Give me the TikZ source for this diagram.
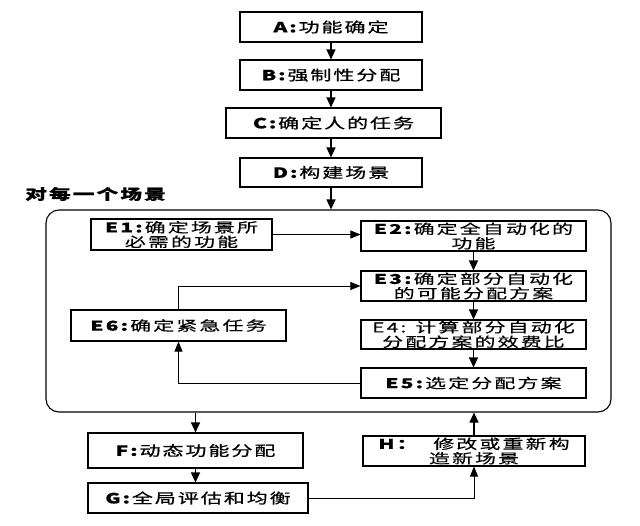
\documentclass[tikz,border=0pt]{standalone}
\usepackage{fontspec}
\usetikzlibrary{arrows.meta}
\newfontfamily\cjk[FakeStretch=1.5,LetterSpace=14,FakeBold=0.8]{Noto Sans CJK SC}
\newfontfamily\cjkE[FakeStretch=1.55,LetterSpace=16,FakeBold=0.3]{Noto Sans CJK SC}
\tikzset{
  box/.style={draw, line width=1.1pt, rectangle, fill=white, inner sep=0pt, align=center,
    font=\cjk\fontsize{14}{15}\selectfont},
  ebox/.style={box, font=\cjkE\fontsize{13.5}{14.5}\selectfont},
  arr/.style={line width=1.1pt, -{Triangle[length=10pt,width=9pt]}},
  tarr/.style={line width=0.7pt, -{Triangle[length=10pt,width=8pt]}},
  tlin/.style={line width=0.7pt}
}
\begin{document}
\begin{tikzpicture}[x=1pt,y=-1pt]
\useasboundingbox (0,0) rectangle (640,525);
\node[draw, line width=1.1pt, rounded corners=13pt, minimum width=565pt, minimum height=202pt, inner sep=0pt] (scen) at (328.5,311) {};
\node[box, minimum width=182pt, minimum height=30pt] (A) at (331,27) {\textbf{A:}功能确定};
\node[box, minimum width=182pt, minimum height=30pt] (B) at (331,75) {\textbf{B:}强制性分配};
\node[box, minimum width=215pt, minimum height=30pt] (C) at (333.5,123) {\textbf{C:}确定人的任务};
\node[box, minimum width=182pt, minimum height=29pt] (D) at (331,172.5) {\textbf{D:}构建场景};
\node[anchor=west, inner sep=0pt, font=\cjk\bfseries\fontsize{14.5}{15}\selectfont] (lbl) at (25,194) {对每一个场景};
\node[ebox, minimum width=181pt, minimum height=31pt] (E1) at (181.5,234.5) {\textbf{E1:}确定场景所\\必需的功能};
\node[ebox, minimum width=225pt, minimum height=30pt] (E2) at (473.5,236) {\textbf{E2:}确定全自动化的\\功能};
\node[ebox, minimum width=225pt, minimum height=30pt] (E3) at (473.5,286) {\textbf{E3:}确定部分自动化\\的可能分配方案};
\node[ebox, minimum width=225pt, minimum height=29pt] (E4) at (473.5,334.5) {E4: 计算部分自动化\\分配方案的效费比};
\node[ebox, minimum width=225pt, minimum height=30pt] (E5) at (473.5,383) {\textbf{E5:}选定分配方案};
\node[ebox, minimum width=215pt, minimum height=31pt] (E6) at (178.5,325.5) {\textbf{E6:}确定紧急任务};
\node[box, minimum width=215pt, minimum height=35pt] (F) at (195.5,450.5) {\textbf{F:}动态功能分配};
\node[box, minimum width=220pt, minimum height=30pt] (G) at (198,498) {\textbf{G:}全局评估和均衡};
\node[ebox, minimum width=222pt, minimum height=30pt] (H) at (474,451) {\textbf{H：}\quad 修改或重新构\\造新场景};
\draw[arr] (A.south) -- (A.south |- B.north);
\draw[arr] (B.south) -- (B.south |- C.north);
\draw[arr] (B.south |- C.south) -- (B.south |- D.north);
\draw[arr] (D.south) -- (D.south |- scen.north);
\draw[tarr] (E1.east) -- (E1.east -| E2.west);
\draw[arr] (E2.south) -- (E3.north);
\draw[arr] (E3.south) -- (E4.north);
\draw[arr] (E4.south) -- (E5.north);
\draw[tarr] (E6.north) |- (E3.west);
\draw[tarr] (E5.west) -| (E6.south);
\draw[arr] (F.north |- scen.south) -- (F.north);
\draw[arr] (F.south) -- (F.south |- G.north);
\draw[tarr] (G.east) -| (H.south);
\draw[arr] (H.north) -- (H.north |- scen.south);
\end{tikzpicture}
\end{document}
